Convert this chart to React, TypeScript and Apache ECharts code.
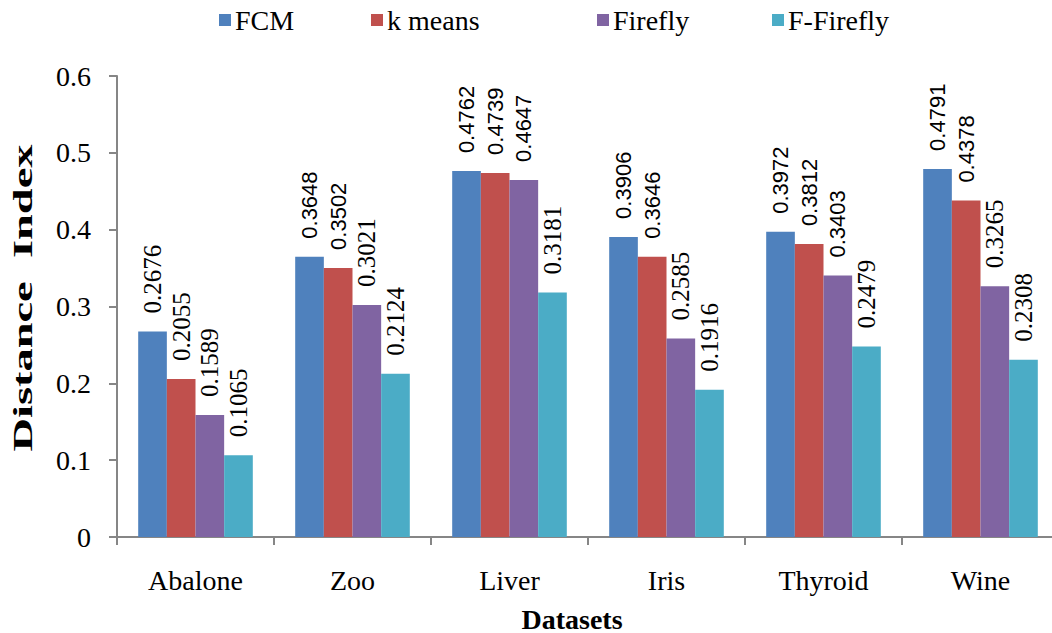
import React, { useEffect, useRef } from "react";
import * as echarts from "echarts";

const categories = ["Abalone", "Zoo", "Liver", "Iris", "Thyroid", "Wine"];
const seriesNames = ["FCM", "k means", "Firefly", "F-Firefly"];
const fcm = [0.2676, 0.3648, 0.4762, 0.3906, 0.3972, 0.4791];
const kMeans = [0.2055, 0.3502, 0.4739, 0.3646, 0.3812, 0.4378];
const firefly = [0.1589, 0.3021, 0.4647, 0.2585, 0.3403, 0.3265];
const fFirefly = [0.1065, 0.2124, 0.3181, 0.1916, 0.2479, 0.2308];
const yTicks = [0, 0.1, 0.2, 0.3, 0.4, 0.5, 0.6];
const yTitle = "Distance  Index";
const xTitle = "Datasets";

const seriesValues = [fcm, kMeans, firefly, fFirefly];
const colors = ["#4F81BD", "#C0504D", "#8064A2", "#4BACC6"];

// value labels that are set in the sans face
const sansLabels = new Set([
  "Zoo|FCM", "Zoo|k means",
  "Liver|FCM", "Liver|k means", "Liver|Firefly",
  "Iris|FCM", "Iris|k means",
  "Thyroid|FCM", "Thyroid|k means", "Thyroid|Firefly",
  "Wine|FCM", "Wine|k means",
]);

const SERIF = "Liberation Serif";
const SANS = "Liberation Sans";

export default function App() {
  const ref = useRef<HTMLDivElement>(null);

  useEffect(() => {
    if (!ref.current) return;
    const chart = echarts.init(ref.current, undefined, { renderer: "svg" });

    const series = seriesNames.map((name, si) => ({
      name,
      type: "bar",
      barGap: "0%",
      barCategoryGap: "27%",
      itemStyle: { color: colors[si] },
      data: seriesValues[si].map((v, ci) => {
        const sans = sansLabels.has(`${categories[ci]}|${name}`);
        return {
          value: v,
          label: {
            show: true,
            position: "top",
            rotate: 90,
            align: "left",
            verticalAlign: "middle",
            distance: 18,
            color: "#000",
            fontFamily: sans ? SANS : SERIF,
            fontSize: sans ? 22 : 25,
            formatter: v.toFixed(4),
          },
        };
      }),
    }));

    const legendLeft = [214, 366, 592, 767];
    const legend = seriesNames.map((name, i) => ({
      data: [name],
      left: legendLeft[i],
      top: 1,
      icon: "rect",
      itemWidth: 12,
      itemHeight: 12,
      itemGap: 0,
      textStyle: { fontFamily: SERIF, fontSize: 28, color: "#000", padding: [0, 0, 0, -1] },
    }));

    chart.setOption({
      animation: false,
      backgroundColor: "#fff",
      legend,
      grid: {
        left: 117,
        top: 76,
        height: 461,
        width: 942,
        containLabel: false,
        outerBoundsMode: "none",
      },
      graphic: [
        {
          // vertical axis title, stretched along its reading direction
          type: "text",
          x: 23,
          y: 298,
          rotation: Math.PI / 2,
          scaleX: 1.72,
          scaleY: 1,
          style: {
            text: yTitle,
            font: `bold 27px ${SERIF}`,
            fill: "#000",
            align: "center",
            verticalAlign: "middle",
          },
        },
      ],
      xAxis: {
        type: "category",
        data: categories,
        axisLine: { lineStyle: { color: "#868686", width: 2 } },
        axisTick: { show: true, length: 8, lineStyle: { color: "#868686", width: 2 } },
        axisLabel: { fontFamily: SERIF, fontSize: 28, color: "#000", margin: 29 },
        name: xTitle,
        nameLocation: "middle",
        nameGap: 68,
        nameTextStyle: {
          fontFamily: SERIF,
          fontSize: 28,
          fontWeight: "bold",
          color: "#000",
          padding: [0, 32, 0, 0],
        },
      },
      yAxis: {
        type: "value",
        min: yTicks[0],
        max: yTicks[yTicks.length - 1],
        interval: 0.1,
        splitLine: { show: false },
        axisLine: { show: true, lineStyle: { color: "#868686", width: 2 } },
        axisTick: { show: true, length: 8, lineStyle: { color: "#868686", width: 2 } },
        axisLabel: {
          fontFamily: SERIF,
          fontSize: 28,
          color: "#000",
          margin: 26,
          formatter: (v: number) => (v === 0 ? "0" : v.toFixed(1)),
        },
      },
      series,
    });

    return () => chart.dispose();
  }, []);

  return (
    <div
      ref={ref}
      style={{ position: "fixed", left: 0, top: 0, width: 1052, height: 633 }}
    />
  );
}
